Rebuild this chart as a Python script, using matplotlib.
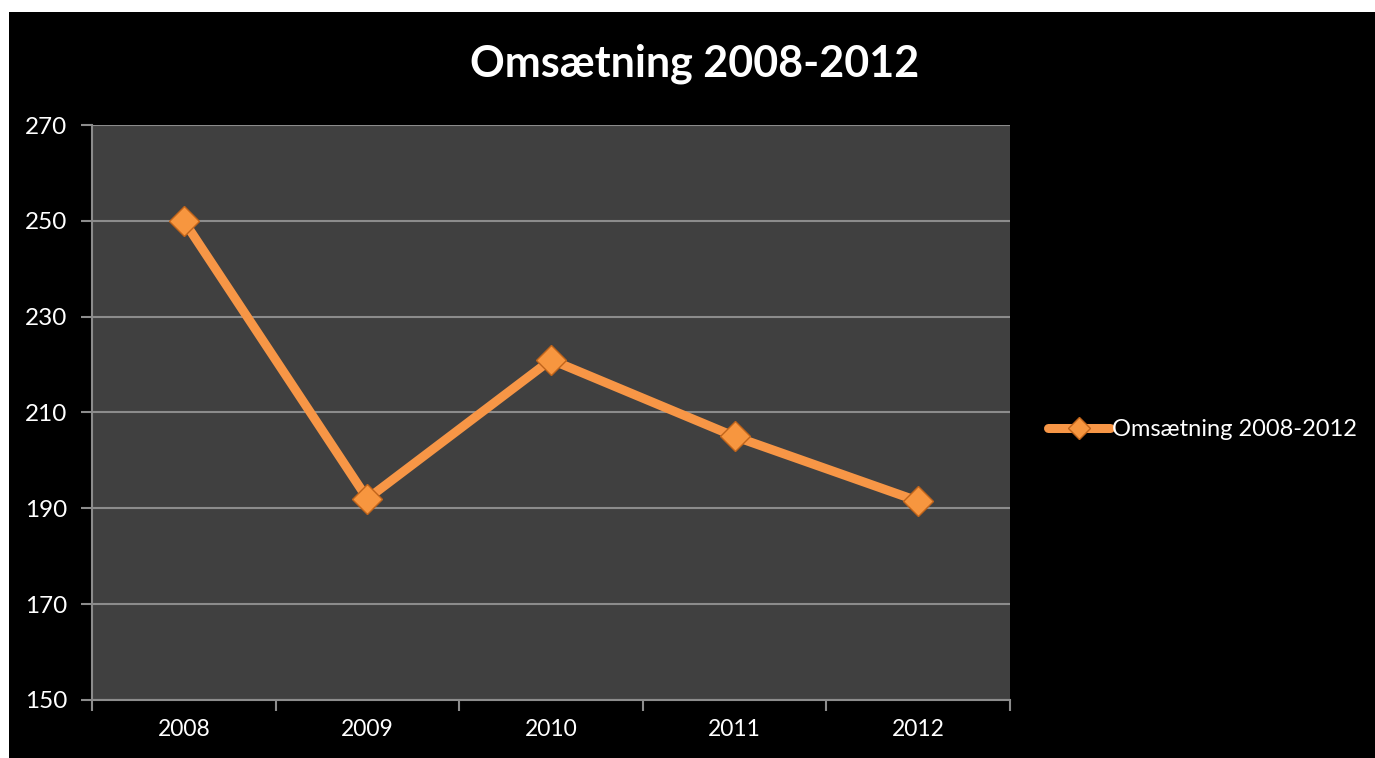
import matplotlib
matplotlib.use("Agg")
import matplotlib.pyplot as plt
from matplotlib.patches import Rectangle
from matplotlib.lines import Line2D

years = ["2008", "2009", "2010", "2011", "2012"]
values = [250, 192, 221, 205, 191.5]
yticks = [150, 170, 190, 210, 230, 250, 270]
series_name = "Omsætning 2008-2012"
title = "Omsætning 2008-2012"

plt.rcParams['font.family'] = ['Lato', 'DejaVu Sans']

W, H = 1375, 758
fig = plt.figure(figsize=(W/100, H/100), dpi=100, facecolor="black")
fig.patches.append(Rectangle((0, 0), 9/W, 1, transform=fig.transFigure,
                             facecolor="white", edgecolor="none", zorder=0))
fig.patches.append(Rectangle((0, 1 - 12/H), 1, 12/H, transform=fig.transFigure,
                             facecolor="white", edgecolor="none", zorder=0))

ax = fig.add_axes([92/W, 1 - 700/H, (1010-92)/W, (700-125)/H])
ax.set_facecolor("#404040")
x = list(range(len(years)))
orange = "#F79646"
ax.plot(x, values, color=orange, lw=6.5, solid_capstyle="round", zorder=3,
        marker="D", markersize=15, markerfacecolor="#F7963F", markeredgecolor="#C0641A",
        markeredgewidth=1.0, label=series_name)
ax.set_xlim(-0.5, len(years) - 0.5)
ax.set_ylim(150, 270)
ax.set_yticks(yticks)
ax.set_yticklabels([str(v) for v in yticks], color="white", fontsize=17.5)
ax.set_xticks(x)
ax.set_xticklabels(years, color="white", fontsize=16.5)
ax.tick_params(axis="x", length=0, pad=14)
ax.tick_params(axis="y", length=8, color="#8c8c8c", width=1.5, pad=10)
ax.set_xticks([i - 0.5 for i in range(len(years) + 1)], minor=True)
ax.tick_params(axis="x", which="minor", length=8, color="#8c8c8c", width=1.5)
ax.grid(axis="y", color="#8c8c8c", lw=1.5)
ax.set_axisbelow(True)
for s in ["top", "right"]:
    ax.spines[s].set_visible(False)
for s in ["left", "bottom"]:
    ax.spines[s].set_color("#8c8c8c")
    ax.spines[s].set_linewidth(1.5)

fig.text(695/W, 1 - 64/H, title, ha="center", va="center", color="white",
         fontsize=31, fontweight="bold")

handle = Line2D([], [], color=orange, lw=6.5, solid_capstyle="round",
                marker="D", markersize=11, markerfacecolor="#F7963F",
                markeredgecolor="#C0641A", markeredgewidth=1.0)
leg = fig.legend([handle], [series_name], loc="center left",
                 bbox_to_anchor=(1027/W, 1 - 430/H), frameon=False,
                 fontsize=17, labelcolor="white", handlelength=2.6, handletextpad=0.1)

fig.savefig("out.png", dpi=100, facecolor=fig.get_facecolor())
